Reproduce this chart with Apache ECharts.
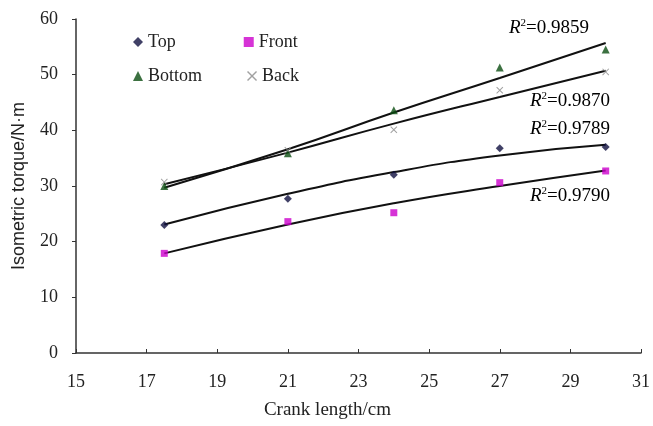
<!DOCTYPE html>
<html>
<head>
<meta charset="utf-8">
<script src="https://cdn.jsdelivr.net/npm/echarts@6/dist/echarts.min.js"></script>
<style>
  html, body { margin: 0; padding: 0; background: #fff; }
  #main { width: 653px; height: 426px; }
</style>
</head>
<body>
<div id="main"></div>
<script>
// crank lengths (cm)
var crankLength = [17.5, 21, 24, 27, 30];

// measured isometric torque (N·m)
var topVals = [23.0, 27.7, 32.0, 36.8, 37.0];
var frontVals = [17.9, 23.6, 25.2, 30.6, 32.7];
var bottomVals = [30.0, 35.9, 43.6, 51.3, 54.5];
var backVals = [30.7, 36.4, 40.1, 47.2, 50.5];

// trend lines at the same crank lengths
var topTrend = [23.1, 28.6, 32.5, 35.5, 37.4];
var frontTrend = [17.9, 23.1, 26.9, 30.0, 32.8];
var bottomTrend = [29.7, 36.6, 43.2, 49.4, 55.7];
var backTrend = [30.3, 36.0, 41.2, 46.0, 50.7];

var r2Labels = ["0.9859", "0.9870", "0.9789", "0.9790"];

function pairs(vals) {
  return crankLength.map(function (x, i) { return [x, vals[i]]; });
}

var crossPath = "path://M0,1L1,0L5,4L9,0L10,1L6,5L10,9L9,10L5,6L1,10L0,9L4,5Z";
var serif = "Liberation Serif";

var chart = echarts.init(document.getElementById("main"));

function scatter(name, vals, symbol, color, size) {
  return {
    name: name,
    type: "scatter",
    data: pairs(vals),
    symbol: symbol,
    symbolSize: size,
    itemStyle: { color: color },
    z: 3
  };
}

function trend(vals) {
  return {
    type: "line",
    data: pairs(vals),
    smooth: true,
    showSymbol: false,
    silent: true,
    lineStyle: { color: "#111", width: 2 },
    z: 2
  };
}

var legendText = { fontFamily: serif, fontSize: 18, color: "#222" };

var r2Rich = {
  i: { fontFamily: serif, fontStyle: "italic", fontSize: 19, color: "#222" },
  s: { fontFamily: serif, fontSize: 11, color: "#222", verticalAlign: "top", padding: [0, 0, 9, 0] },
  n: { fontFamily: serif, fontSize: 19, color: "#222" }
};

function r2Text(x, y, value) {
  return {
    type: "text",
    left: x,
    top: y,
    style: { text: "{i|R}{s|2}{n|=" + value + "}", rich: r2Rich }
  };
}

var option = {
  animation: false,
  backgroundColor: "#fff",
  grid: { left: 76, right: 12, top: 19, bottom: 73 },
  legend: [
    {
      data: ["Top", "Front"],
      left: 128, top: 28,
      itemWidth: 10, itemHeight: 10, itemGap: 68,
      textStyle: legendText
    },
    {
      data: ["Bottom", "Back"],
      left: 128, top: 62,
      itemWidth: 10, itemHeight: 10, itemGap: 45,
      textStyle: legendText
    }
  ],
  xAxis: {
    type: "value",
    min: 15, max: 31, interval: 2,
    name: "Crank length/cm",
    nameLocation: "middle",
    nameGap: 48,
    nameTextStyle: { fontFamily: serif, fontSize: 19, color: "#222", padding: [0, 62, 0, 0] },
    axisLine: { lineStyle: { color: "#333", width: 1.5 } },
    axisTick: { inside: true, length: 4, lineStyle: { color: "#333" } },
    axisLabel: { fontFamily: serif, fontSize: 18, color: "#222", margin: 20 },
    splitLine: { show: false }
  },
  yAxis: {
    type: "value",
    min: 0, max: 60, interval: 10,
    name: "Isometric torque/N·m",
    nameLocation: "middle",
    nameGap: 48,
    nameTextStyle: { fontFamily: "Liberation Sans", fontSize: 18, color: "#222" },
    axisLine: { show: true, lineStyle: { color: "#333", width: 1.5 } },
    axisTick: { show: true, length: 4, lineStyle: { color: "#333" } },
    axisLabel: { fontFamily: serif, fontSize: 18, color: "#222", margin: 18 },
    splitLine: { show: false }
  },
  graphic: [
    r2Text(509, 18, r2Labels[0]),
    r2Text(530, 91, r2Labels[1]),
    r2Text(530, 119, r2Labels[2]),
    r2Text(530, 186, r2Labels[3])
  ],
  series: [
    trend(topTrend),
    trend(frontTrend),
    trend(bottomTrend),
    trend(backTrend),
    scatter("Top", topVals, "diamond", "#101040", 8),
    scatter("Front", frontVals, "rect", "#cc00cc", 7),
    scatter("Bottom", bottomVals, "triangle", "#0b4d12", 8),
    scatter("Back", backVals, crossPath, "#8a8a8a", 7)
  ]
};

chart.setOption(option);
</script>
</body>
</html>
